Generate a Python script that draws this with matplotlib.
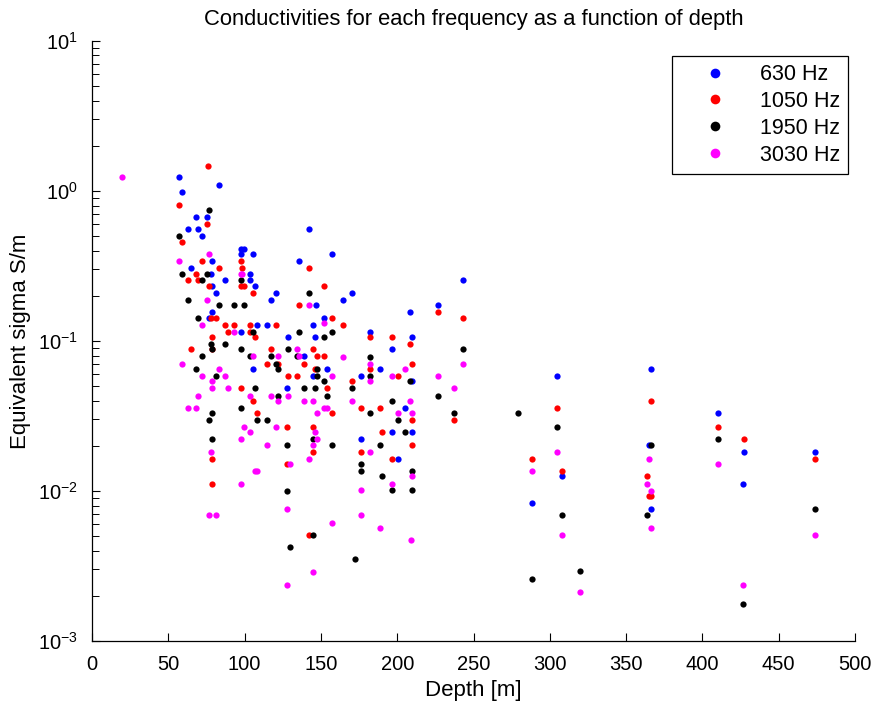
import matplotlib
matplotlib.use("Agg")
import matplotlib.pyplot as plt
from matplotlib.ticker import LogLocator, MultipleLocator, NullFormatter

plt.rcParams['font.family'] = ['Liberation Sans', 'DejaVu Sans']
plt.rcParams['mathtext.fontset'] = 'custom'
plt.rcParams['mathtext.rm'] = 'Liberation Sans'

labels = ["630 Hz", "1050 Hz", "1950 Hz", "3030 Hz"]
colors = ["#0000ff", "#ff0000", "#000000", "#ff00ff"]

depth_630 = [56.8, 83, 59.2, 68.4, 75.4, 62.7, 69.5, 71.9, 78.8, 64.9, 77.7, 78.8, 81.3, 78.8, 76.4,
             142.4, 97.4, 99.8, 97.4, 105.5, 157.5, 135.4, 103.3, 103.3, 87, 106.8, 120.6, 117.1, 147,
             151.8, 107.9, 114.9, 144.8,
             97.4, 128.7, 146.1, 139.1, 105.5, 154, 144.8, 127.6,
             243.3, 170.4, 164.5, 227, 208.4, 182, 209.7, 196.8, 189, 176.3, 209.7, 205.1, 196.8, 209.7,
             176.3, 200.5,
             304.7, 308.2, 288.5,
             366.1, 410.2, 364.8, 427.4, 474, 426.3, 366.1]
sigma_630 = [1.23, 1.10, 0.98, 0.67, 0.67, 0.556, 0.556, 0.50, 0.34, 0.307, 0.28, 0.234, 0.21, 0.155, 0.143,
             0.556, 0.412, 0.412, 0.38, 0.38, 0.38, 0.34, 0.28, 0.254, 0.254, 0.234, 0.21, 0.188, 0.173,
             0.143, 0.128, 0.128, 0.128,
             0.115, 0.106, 0.106, 0.079, 0.065, 0.065, 0.0584, 0.0484,
             0.254, 0.21, 0.188, 0.173, 0.155, 0.115, 0.106, 0.088, 0.065, 0.0584, 0.054, 0.0359, 0.0246, 0.0246,
             0.0221, 0.0163,
             0.0584, 0.0125, 0.00828,
             0.0655, 0.0331, 0.0203, 0.0182, 0.0182, 0.0112, 0.0076]

depth_1050 = [76.2, 56.8, 75.4, 59.2, 71.9, 83, 68.4, 62.7, 69.5, 76.4, 77.7, 81.3,
              78.8, 64.9, 78.8, 78.8, 78.8,
              97.4, 98.5, 142.4, 97.4, 99.8, 151.8, 105.5, 135.4, 157.5, 87, 92.9, 103.3, 120.6,
              89.3, 103.3, 106.8, 117.1, 144.8, 147.2, 151.8, 114.7, 121.7, 139.1, 146.1, 128.7, 134.5,
              97.4, 154, 105.5, 107.9, 157.5, 127.6, 144.8, 144.8, 127.6, 142.4,
              227, 243.3, 164.5, 182, 196.8, 208.4, 209.7, 182, 170.4, 200.5, 176.3, 189, 209.7, 237.4,
              190, 209.7, 176.3, 196.8,
              304.7, 288.5, 308.2,
              366.1, 410.2, 427.4, 474, 363.9, 364.8, 366.1]
sigma_1050 = [1.47, 0.81, 0.60, 0.46, 0.34, 0.307, 0.28, 0.254, 0.254, 0.234, 0.143, 0.143,
              0.106, 0.088, 0.088, 0.0163, 0.0112,
              0.34, 0.307, 0.307, 0.234, 0.234, 0.234, 0.21, 0.173, 0.143, 0.128, 0.128, 0.128, 0.128,
              0.115, 0.115, 0.106, 0.088, 0.088, 0.079, 0.079, 0.0706, 0.0706, 0.0706, 0.065, 0.0584, 0.0584,
              0.0484, 0.0484, 0.040, 0.0331, 0.0331, 0.0267, 0.0267, 0.0182, 0.0151, 0.00509,
              0.155, 0.143, 0.128, 0.106, 0.106, 0.095, 0.0706, 0.065, 0.054, 0.0584, 0.0359, 0.0359, 0.0297, 0.0297,
              0.0246, 0.0203, 0.0182, 0.0163,
              0.0357, 0.0163, 0.0135,
              0.040, 0.0266, 0.0221, 0.0163, 0.0125, 0.0093, 0.0093]

depth_1950 = [76.4, 56.8, 59.2, 75.4, 71.9, 62.7, 83, 69.5,
              77.7, 78.8, 71.9, 68.4, 81.3, 78.8, 76.4, 78.8,
              97.4, 142.4, 92.9, 99.8,
              105.5, 135.4, 157.5, 151.8, 87, 97.4, 128.7, 103.3, 117.1, 134.5, 120.6, 121.7, 147.2, 147.2,
              151.8, 106.8, 139.1, 146.1, 121.7, 154, 97.4, 107.9, 114.9, 144.8, 127.6, 157.5, 127.6,
              144.8, 130,
              243.3, 182, 182, 170.4, 208.4, 227, 196.8, 182, 237.4, 200.5, 205.1, 189, 176.3, 176.3,
              209.7, 190, 196.8, 209.7, 172.3,
              279.4, 304.7, 308.2, 319.8, 288.5,
              410.2, 366.1, 474, 363.9, 426.3]
sigma_1950 = [0.75, 0.50, 0.28, 0.28, 0.254, 0.188, 0.173, 0.143,
              0.0955, 0.088, 0.079, 0.065, 0.0584, 0.0331, 0.0297, 0.0221,
              0.254, 0.21, 0.173, 0.173,
              0.115, 0.115, 0.115, 0.106, 0.0955, 0.088, 0.088, 0.079, 0.079, 0.079, 0.0706, 0.065, 0.065, 0.0584,
              0.054, 0.0484, 0.0484, 0.0484, 0.0432, 0.0432, 0.0359, 0.0297, 0.0297, 0.0221, 0.0203, 0.0203, 0.0100,
              0.00509, 0.00421,
              0.088, 0.0787, 0.0584, 0.0484, 0.054, 0.0432, 0.040, 0.0331, 0.0331, 0.0297, 0.0246, 0.0203, 0.0151, 0.0135,
              0.0135, 0.0125, 0.0101, 0.0101, 0.0035,
              0.0331, 0.0266, 0.0069, 0.00293, 0.00258,
              0.0221, 0.0203, 0.0076, 0.0069, 0.00177]

depth_3030 = [19.7, 76.4, 56.8, 75.4, 71.9,
              59.2, 83, 71.9, 78.8, 78.8, 69.5, 62.7, 68.4, 77.7, 76.4, 81.3,
              97.4, 98.5, 142.4, 151.8,
              92.9, 134.5, 105.5, 121.7, 135.4, 87, 157.5, 89.3, 103.3, 117.1, 128.7, 121.7, 139.1, 144.8,
              151.8, 154, 147.2, 99.8, 120.6, 103.3, 146.1, 97.4, 147.2, 114.9, 144.8, 142.4, 130, 106.8,
              107.9, 97.4, 127.6, 157.5, 144.8, 127.6,
              164.5, 182, 243.3, 205.1, 196.8, 227, 182, 237.4, 170.4, 208.4, 200.5, 209.7, 182, 209.7,
              196.8, 176.3, 176.3, 189, 209,
              304.7, 288.5, 308.2, 319.8,
              364.8, 410.2, 363.9, 366.1, 366.1, 474, 426.3]
sigma_3030 = [1.23, 0.38, 0.34, 0.188, 0.128,
              0.0706, 0.065, 0.0584, 0.054, 0.0484, 0.0432, 0.0359, 0.0359, 0.0182, 0.00689, 0.00689,
              0.28, 0.28, 0.173, 0.132,
              0.115, 0.088, 0.079, 0.079, 0.079, 0.0584, 0.0584, 0.0484, 0.0432, 0.0432, 0.0432, 0.040, 0.040, 0.040,
              0.0359, 0.0359, 0.0331, 0.0267, 0.0267, 0.0246, 0.0246, 0.0221, 0.0221, 0.0203, 0.0203, 0.0163, 0.0151, 0.0135,
              0.0135, 0.0112, 0.00762, 0.00615, 0.00287, 0.00237,
              0.0787, 0.0706, 0.0706, 0.065, 0.0584, 0.0584, 0.054, 0.0484, 0.040, 0.040, 0.0331, 0.0331, 0.0182, 0.0125,
              0.0112, 0.0101, 0.0069, 0.0057, 0.0047,
              0.0182, 0.0135, 0.0051, 0.00213,
              0.0163, 0.0151, 0.0112, 0.0100, 0.0057, 0.0051, 0.00237]

depths = [depth_630, depth_1050, depth_1950, depth_3030]
sigmas = [sigma_630, sigma_1050, sigma_1950, sigma_3030]

fig = plt.figure(figsize=(8.79, 7.06), dpi=100)
ax = fig.add_axes([0.1047, 0.092, 0.868, 0.850])

for d, s, c, lab in zip(depths, sigmas, colors, labels):
    ax.plot(d, s, linestyle='none', marker='o', markersize=4.5, markeredgewidth=0,
            color=c, label=lab)

ax.set_yscale('log')
ax.set_xlim(0, 500)
ax.set_ylim(1e-3, 1e1)
ax.xaxis.set_major_locator(MultipleLocator(50))
ax.yaxis.set_major_locator(LogLocator(base=10, numticks=10))
ax.yaxis.set_minor_locator(LogLocator(base=10, subs=range(2, 10), numticks=20))
ax.yaxis.set_minor_formatter(NullFormatter())

ax.spines['top'].set_visible(False)
ax.spines['right'].set_visible(False)
for sp in ax.spines.values():
    sp.set_linewidth(0.9)

ax.tick_params(which='both', direction='in', top=False, right=False, labelsize=14.5)
ax.tick_params(axis='x', which='major', length=6, width=0.8, pad=10)
ax.tick_params(axis='y', which='major', length=6, width=0.8, pad=10)
ax.tick_params(axis='y', which='minor', length=5, width=0.7)

ax.set_title("Conductivities for each frequency as a function of depth", fontsize=15.8,
             y=1.035, va='center', pad=0)
ax.set_xlabel("Depth [m]", fontsize=16)
ax.set_ylabel("Equivalent sigma S/m", fontsize=16)
ax.xaxis.set_label_coords(0.5, -0.0817, transform=ax.transAxes)
ax.yaxis.set_label_coords(-0.094, 0.5, transform=ax.transAxes)
ax.xaxis.label.set_va('center')
ax.yaxis.label.set_va('center')

leg = ax.legend(loc='upper right', bbox_to_anchor=(0.9908, 0.975), fontsize=15.5,
                markerscale=1.55, frameon=True, fancybox=False, edgecolor='black',
                framealpha=1, borderaxespad=0, handletextpad=0.4, labelspacing=0.27,
                borderpad=0.38, handlelength=3.3)
leg.get_frame().set_linewidth(0.9)

fig.savefig("out.png", dpi=100)
